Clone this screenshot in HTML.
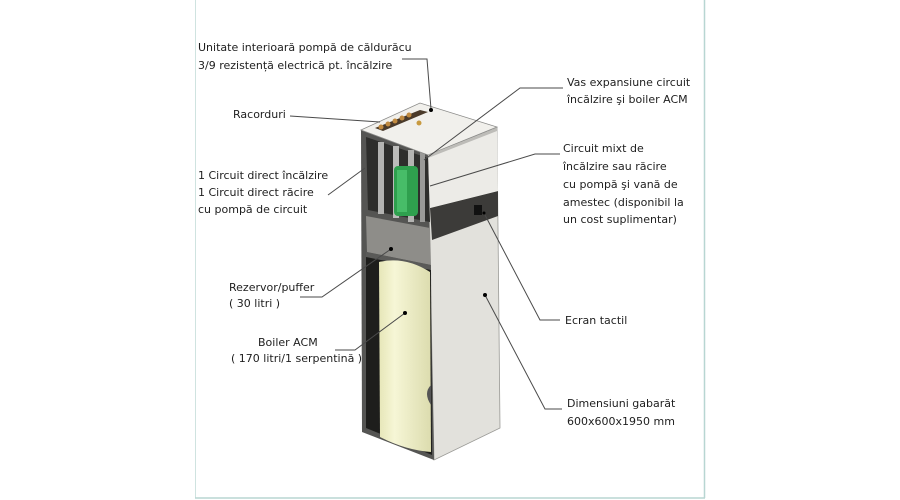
<!DOCTYPE html>
<html><head><meta charset="utf-8"><style>
html,body{margin:0;padding:0;background:#fff;width:900px;height:500px;overflow:hidden}
svg text{font-family:"DejaVu Sans","Liberation Sans",sans-serif;font-size:11px;fill:#1e1e1e}
</style></head><body>
<svg width="900" height="500" viewBox="0 0 900 500" xmlns="http://www.w3.org/2000/svg">
<defs>
<linearGradient id="tank" x1="0" x2="1">
<stop offset="0" stop-color="#e6e6b8"/><stop offset="0.3" stop-color="#f6f6d6"/><stop offset="1" stop-color="#dcdcae"/>
</linearGradient>
</defs>
<line x1="195.5" y1="0" x2="195.5" y2="498" stroke="#cfe3e0" stroke-width="1"/>
<line x1="704.5" y1="0" x2="704.5" y2="498" stroke="#b8d6d2" stroke-width="1.5"/>
<line x1="195" y1="498" x2="705" y2="498" stroke="#b8d6d2" stroke-width="1.5"/>

<polygon points="428,155 497,128 500,428 434,460" fill="#e2e1dc" stroke="#9a9a96" stroke-width="0.8"/>
<polygon points="430,208 498,191 498,216 432,240" fill="#3c3b39"/>
<rect x="474" y="205" width="8" height="10" fill="#111"/>
<polygon points="428,155 497,128 498,191 430,208" fill="#ecebe7"/>
<polygon points="361,130 428,155 434,460 362,432" fill="#555553"/>
<polygon points="366,137 428,158 430,222 368,210" fill="#2e2e2c"/>
<rect x="378" y="142" width="6" height="72" fill="#b4b4b2"/>
<rect x="393" y="146" width="6" height="72" fill="#bcbcba"/>
<rect x="408" y="150" width="6" height="72" fill="#b4b4b2"/>
<rect x="420" y="152" width="5" height="70" fill="#9a9a98"/>
<rect x="394" y="166" width="24" height="50" rx="4" fill="#2fa04e"/>
<rect x="397" y="170" width="10" height="42" fill="#58d07a" opacity="0.6"/>
<polygon points="366,216 430,228 431,265 367,252" fill="#8e8d89"/>
<polygon points="366,252 431,265 431,270 366,257" fill="#5a5a58"/>
<polygon points="366,257 431,270 432,455 366,428" fill="#1e1e1c"/>
<path d="M379,262 Q405,256 430,272 L431,452 Q405,450 380,437 Z" fill="url(#tank)"/>
<path d="M431,385 q-8,8 0,20 z" fill="#555"/>
<polygon points="361,130 420,103 497,127 428,155" fill="#f1f0ec" stroke="#8a8a88" stroke-width="0.8"/>
<polygon points="375,128 420,110 428,112 383,131" fill="#4a3a2a"/>
<circle cx="381" cy="127" r="2.5" fill="#c08a40"/><circle cx="388" cy="124" r="2.5" fill="#c08a40"/><circle cx="395" cy="121" r="2.5" fill="#c08a40"/><circle cx="402" cy="118" r="2.5" fill="#c08a40"/><circle cx="409" cy="115" r="2.5" fill="#c08a40"/>
<circle cx="419" cy="123" r="2.5" fill="#c89a40"/>
<polygon points="428,155 497,128 497,131 428,158" fill="#bdbcb8"/>

<g stroke="#4a4a4a" stroke-width="1" fill="none">
<polyline points="402,59 427,59 431,109"/>
<polyline points="290,116 380,122"/>
<polyline points="563,88 520,88 424,160"/>
<polyline points="560,154 535,154 430,186"/>
<polyline points="328,195 365,168"/>
<polyline points="300,297 322,297 391,249"/>
<polyline points="335,350 355,350 405,313"/>
<polyline points="560,320 540,320 485,215"/>
<polyline points="562,409 545,409 485,295"/>
</g>
<g fill="#000">
<circle cx="431" cy="110" r="2"/>
<circle cx="391" cy="249" r="2"/>
<circle cx="405" cy="313" r="2"/>
<circle cx="485" cy="295" r="2"/>
<circle cx="484" cy="213" r="1.5"/>
</g>

<text x="198" y="51">Unitate interioară pompă de căldurăcu</text>
<text x="198" y="69">3/9 rezistență electrică  pt. încălzire</text>
<text x="233" y="118">Racorduri</text>
<text x="567" y="86">Vas expansiune circuit</text>
<text x="567" y="103">încălzire şi boiler ACM</text>
<text x="563" y="152">Circuit mixt de</text>
<text x="563" y="170">încălzire sau răcire</text>
<text x="563" y="188">cu pompă şi vană de</text>
<text x="563" y="206">amestec (disponibil la</text>
<text x="563" y="223">un cost suplimentar)</text>
<text x="198" y="179">1 Circuit direct încălzire</text>
<text x="198" y="196">1 Circuit direct răcire</text>
<text x="198" y="213">cu pompă de circuit</text>
<text x="229" y="291">Rezervor/puffer</text>
<text x="229" y="307">( 30 litri )</text>
<text x="258" y="346">Boiler ACM</text>
<text x="231" y="362">( 170 litri/1 serpentină )</text>
<text x="565" y="324">Ecran tactil</text>
<text x="567" y="407">Dimensiuni gabarăt</text>
<text x="567" y="425">600x600x1950 mm</text>
</svg>
</body></html>
